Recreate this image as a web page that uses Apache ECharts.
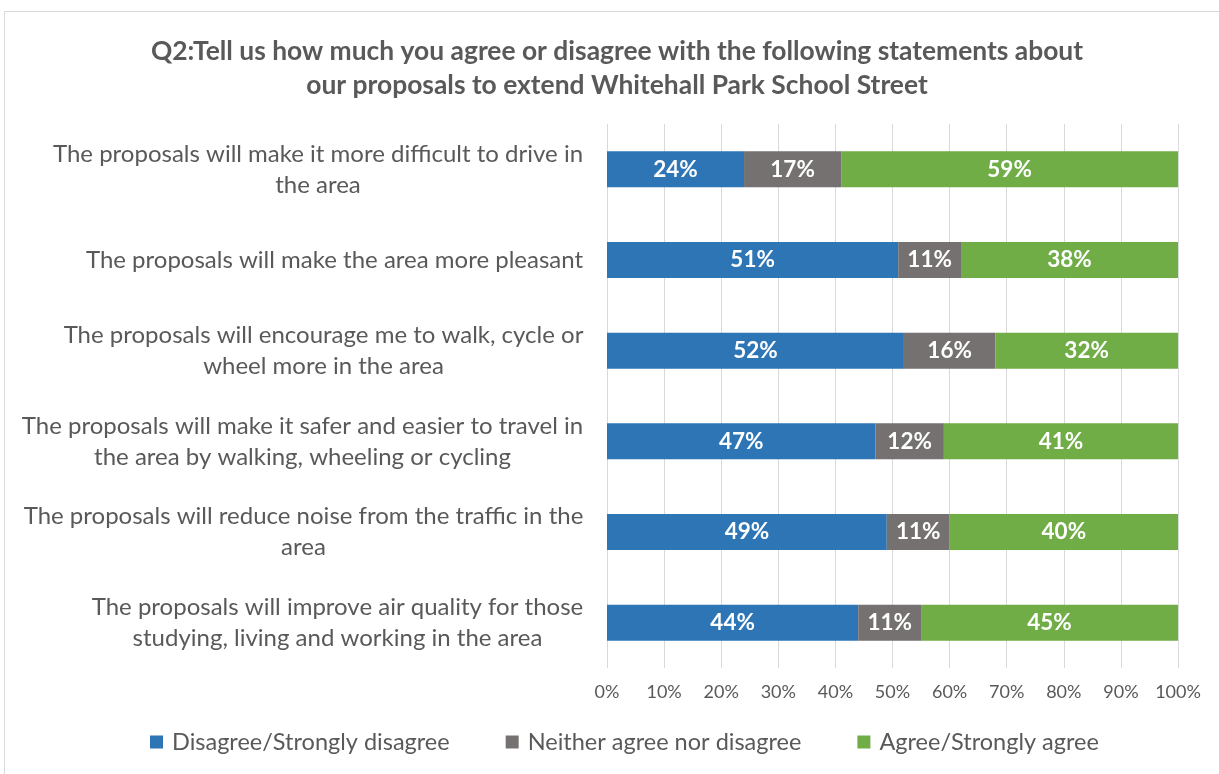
<!DOCTYPE html>
<html>
<head>
<meta charset="utf-8">
<script src="https://cdn.jsdelivr.net/npm/echarts@6/dist/echarts.min.js"></script>
<style>
  html, body { margin: 0; padding: 0; background: #fff; }
  #chart { width: 1219px; height: 774px; }
</style>
</head>
<body>
<div id="chart"></div>
<script>
// Survey statements (line breaks as wrapped in the chart)
const statements = [
  'The proposals will make it more difficult to drive in\nthe area',
  'The proposals will make the area more pleasant',
  'The proposals will encourage me to walk, cycle or\nwheel more in the area',
  'The proposals will make it safer and easier to travel in\nthe area by walking, wheeling or cycling',
  'The proposals will reduce noise from the traffic in the\narea',
  'The proposals will improve air quality for those\nstudying, living and working in the area'
];
const seriesNames = ['Disagree/Strongly disagree', 'Neither agree nor disagree', 'Agree/Strongly agree'];
const disagree = [24, 51, 52, 47, 49, 44];
const neither  = [17, 11, 16, 12, 11, 11];
const agree    = [59, 38, 32, 41, 40, 45];
const xTicks = [0, 10, 20, 30, 40, 50, 60, 70, 80, 90, 100];

const colors = ['#2E75B6', '#767171', '#70AD47'];
const FONT = 'Lato, "Liberation Sans", sans-serif';
const labelSize = 24;

// Measure each statement so that its lines can be centred within a right-aligned block
const ctx = document.createElement('canvas').getContext('2d');
ctx.font = labelSize + 'px ' + FONT;
const rich = {};
statements.forEach((s, i) => {
  const w = Math.max(...s.split('\n').map(l => ctx.measureText(l).width));
  rich['c' + i] = {
    width: Math.ceil(w) + 1, align: 'center', fontSize: labelSize,
    lineHeight: 31, color: '#595959', fontFamily: FONT
  };
});

const chart = echarts.init(document.getElementById('chart'));
const data = [disagree, neither, agree];

chart.setOption({
  animation: false,
  backgroundColor: '#fff',
  title: {
    text: 'Q2:Tell us how much you agree or disagree with the following statements about\nour proposals to extend Whitehall Park School Street',
    left: 612, top: 29, textAlign: 'center',
    textStyle: { fontFamily: FONT, fontSize: 26.4, fontWeight: 'bold', color: '#595959', lineHeight: 34 }
  },
  graphic: [{
    type: 'rect', shape: { x: 4.5, y: 11.5, width: 1400, height: 900 },
    style: { fill: 'none', stroke: '#d9d9d9', lineWidth: 1 }, silent: true
  }],
  legend: {
    data: seriesNames, left: 145, top: 725,
    itemWidth: 13, itemHeight: 13, itemGap: 56, icon: 'rect',
    textStyle: { fontFamily: FONT, fontSize: 23.5, color: '#595959', padding: [0, 0, 0, 4] }
  },
  grid: { left: 607, right: 41, top: 124, bottom: 106, containLabel: false },
  xAxis: {
    type: 'value', min: 0, max: 100, interval: 10,
    axisLine: { show: false }, axisTick: { show: false },
    splitLine: { lineStyle: { color: '#d9d9d9', width: 1 } },
    axisLabel: {
      formatter: v => xTicks.includes(v) ? v + '%' : '',
      fontFamily: FONT, fontSize: 18, color: '#595959', margin: 15
    }
  },
  yAxis: {
    type: 'category', inverse: true, data: statements,
    axisLine: { show: false }, axisTick: { show: false },
    axisLabel: {
      margin: 23, align: 'right',
      formatter: (value, idx) => value.split('\n').map(l => '{c' + idx + '|' + l + '}').join('\n'),
      rich: rich
    }
  },
  series: data.map((d, k) => ({
    name: seriesNames[k], type: 'bar', stack: 'total', barWidth: 36,
    itemStyle: { color: colors[k] },
    label: {
      show: true, position: 'inside', formatter: p => p.value + '%',
      color: '#fff', fontFamily: FONT, fontSize: 22.5, fontWeight: 'bold'
    },
    data: d
  }))
});
</script>
</body>
</html>
